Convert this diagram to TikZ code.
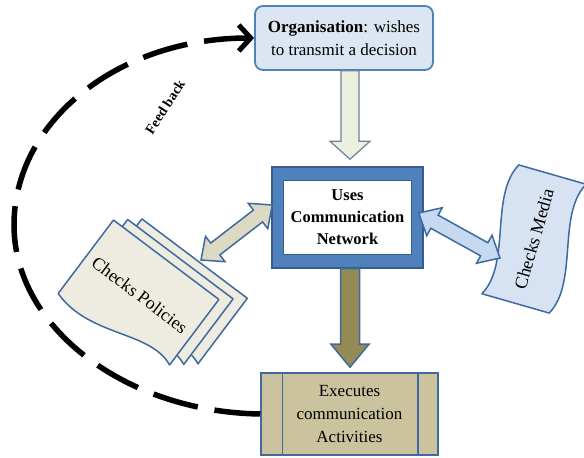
\documentclass[tikz,border=0pt]{standalone}
\usepackage{fontspec}
\setmainfont{Liberation Serif}
\usetikzlibrary{calc,arrows.meta}

\definecolor{boxblue}{HTML}{4F81BD}
\definecolor{edgeblue}{HTML}{385D8A}
\definecolor{lineblue}{HTML}{3E6AA0}
\definecolor{paleblue}{HTML}{DCE6F2}
\definecolor{lightblue}{HTML}{C6D9F1}
\definecolor{mediablue}{HTML}{D7E3F2}
\definecolor{palegreen}{HTML}{EBF1DE}
\definecolor{olivefill}{HTML}{948A54}
\definecolor{tanfill}{HTML}{DDD9C3}
\definecolor{paperfill}{HTML}{EEECE1}
\definecolor{khakifill}{HTML}{CBC39E}

% block arrow from #2 to #3 (tip at #3): #4 half shaft, #5 half head, #6 head length
\newcommand\blockarrow[6]{%
  \coordinate (ba-h) at ($(#3)!#6!(#2)$);
  \draw[#1] ($(#2)!#4!90:(#3)$) -- ($(ba-h)!#4!90:(#3)$) -- ($(ba-h)!#5!90:(#3)$)
    -- (#3) -- ($(ba-h)!#5!-90:(#3)$) -- ($(ba-h)!#4!-90:(#3)$)
    -- ($(#2)!#4!-90:(#3)$) -- cycle;
}
% two-headed block arrow between #2 and #3
\newcommand\twinarrow[6]{%
  \coordinate (ta-a) at ($(#2)!#6!(#3)$);
  \coordinate (ta-b) at ($(#3)!#6!(#2)$);
  \draw[#1] (#2) -- ($(ta-a)!#5!90:(#3)$) -- ($(ta-a)!#4!90:(#3)$)
    -- ($(ta-b)!#4!-90:(#2)$) -- ($(ta-b)!#5!-90:(#2)$) -- (#3)
    -- ($(ta-b)!#5!90:(#2)$) -- ($(ta-b)!#4!90:(#2)$)
    -- ($(ta-a)!#4!-90:(#3)$) -- ($(ta-a)!#5!-90:(#3)$) -- cycle;
}

\begin{document}
\begin{tikzpicture}[x=1pt,y=1pt,
  txt/.style={font=\fontsize{17}{23}\selectfont, align=center, inner sep=0pt},
  orgbox/.style={txt, rounded corners=8pt, fill=paleblue, draw=boxblue, line width=1.8pt,
    minimum width=178pt, minimum height=64pt},
  framebox/.style={fill=boxblue, draw=edgeblue, line width=1.5pt,
    minimum width=151pt, minimum height=101pt, inner sep=0pt},
  innerbox/.style={txt, font=\bfseries\fontsize{16.5}{22}\selectfont, fill=white, draw=edgeblue,
    line width=0.8pt, minimum width=128pt, minimum height=74pt},
  procbox/.style={txt, fill=khakifill, draw=lineblue, line width=1.5pt,
    minimum width=177pt, minimum height=82pt},
  page/.style={fill=paperfill, draw=lineblue, line width=1.5pt, line join=round},
  media/.style={fill=mediablue, draw=lineblue, line width=1.5pt, line join=round},
  feedback/.style={line width=5.5pt, dash pattern=on 46pt off 17pt,
    -{Straight Barb[length=12pt,width=26pt,line width=5pt]}},
]
\useasboundingbox (0,0) rectangle (584,458);

% main boxes
\node[orgbox] (org) at (344,420) {\textbf{Organisation}: wishes\\to transmit a decision};
\node[framebox] (net) at (347.5,240.5) {};
\node[innerbox] (netin) at (net.center) {Uses\\Communication\\Network};
\node[procbox] (exec) at (349.5,44) {Executes\\communication\\Activities};
\draw[lineblue, line width=1.5pt] ([xshift=22pt]exec.north west) -- ([xshift=22pt]exec.south west);
\draw[lineblue, line width=1.5pt] ([xshift=-21pt]exec.north east) -- ([xshift=-21pt]exec.south east);

% stacked policy pages
\begin{scope}[shift={(138.5,161.5)}, rotate=-37]
  \foreach \d in {22,11,0} {
    \draw[page, shift={(\d,0.82*\d)}] (-66,46) -- (66,46) -- (66,-36)
      .. controls (30,-20) and (-15,-62) .. (-66,-46) -- cycle;
  }
  \node[txt, font=\fontsize{18}{18}\selectfont, rotate=-37] (pol) at (0,2) {Checks Policies};
\end{scope}
\coordinate (polend) at (201,198);

% media sheet
\begin{scope}[shift={(534,219)}, rotate=74]
  \draw[media] (-67,35) .. controls (-30,15) and (30,55) .. (67,35) -- (67,-35)
    .. controls (30,-15) and (-30,-55) .. (-67,-35) -- cycle;
  \node[txt, font=\fontsize{18}{18}\selectfont, rotate=74] (med) at (0,0) {Checks Media};
\end{scope}
\coordinate (medend) at (500,200);

% block arrows
\coordinate (t1) at ([xshift=6pt]org.south);
\coordinate (t2) at ([xshift=2.5pt,yshift=7pt]net.north);
\blockarrow{fill=palegreen, draw=gray!60!boxblue, line width=1.2pt, line join=miter}{t1}{t2}{9pt}{20pt}{18pt}
\coordinate (o1) at ([xshift=2.5pt]net.south);
\coordinate (o2) at ([xshift=0.5pt,yshift=5pt]exec.north);
\blockarrow{fill=olivefill, draw=lineblue, line width=1.5pt}{o1}{o2}{9.5pt}{19pt}{23pt}
\coordinate (l1) at ([xshift=1pt,yshift=12.5pt]net.west);
\twinarrow{fill=tanfill, draw=lineblue, line width=1.5pt}{l1}{polend}{7.5pt}{16pt}{18pt}
\coordinate (r1) at ([xshift=-5pt,yshift=4.5pt]net.east);
\twinarrow{fill=lightblue, draw=lineblue, line width=1.5pt}{r1}{medend}{7.5pt}{16pt}{18pt}

% feedback loop
\coordinate (fbleft) at (14,233);
\draw[feedback] (exec.west) .. controls (126,46) and (14,130) .. (fbleft)
  .. controls (14,336) and (117,420) .. (org.west);
\node[font=\bfseries\fontsize{14}{14}\selectfont, rotate=57] (fb) at (165,351) {Feed back};
\end{tikzpicture}
\end{document}
